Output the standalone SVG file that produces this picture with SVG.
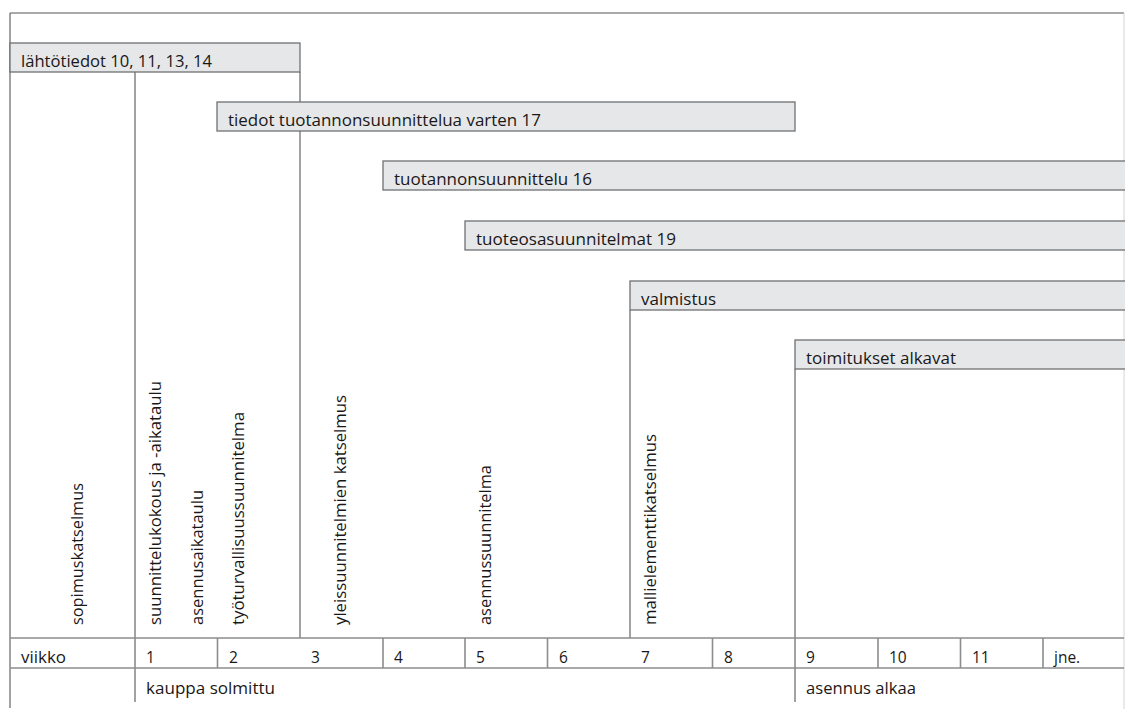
<svg xmlns="http://www.w3.org/2000/svg" width="1125" height="709" viewBox="0 0 1125 709">
<style>
  .bar { fill: #e6e7e8; stroke: #6f7072; stroke-width: 1.3; }
  .ln { stroke: #6f7072; stroke-width: 1.3; fill: none; }
  .tl { stroke: #8c8d8f; stroke-width: 1.6; fill: none; }
  .edge { stroke: #d4d4d4; stroke-width: 1; fill: none; }
  text { font-family: "Open Sans", "Noto Sans", "Liberation Sans", sans-serif; font-size: 15.5px; fill: #1a1718; }
</style>
<rect x="0" y="0" width="1125" height="709" fill="#ffffff"/>

<g id="frame">
  <path class="tl" d="M10,13 H1124"/>
  <path class="edge" d="M1124,13 V709"/>
  <path class="ln" d="M10,13 V708"/>
</g>

<g id="connectors">
  <path class="ln" d="M135,72 V702"/>
  <path class="ln" d="M300,72 V638"/>
  <path class="ln" d="M630,310 V638"/>
  <path class="ln" d="M795,369 V702"/>
</g>

<g id="lahtotiedot">
  <rect class="bar" x="10" y="43" width="290" height="29"/>
  <text x="21" y="67" textLength="191" lengthAdjust="spacingAndGlyphs">lähtötiedot 10, 11, 13, 14</text>
</g>
<g id="tiedot">
  <rect class="bar" x="217" y="102" width="578" height="29"/>
  <text x="228" y="126" textLength="313" lengthAdjust="spacingAndGlyphs">tiedot tuotannonsuunnittelua varten 17</text>
</g>
<g id="tuotannonsuunnittelu">
  <rect class="bar" x="383" y="161" width="745" height="29"/>
  <text x="394" y="185" textLength="198" lengthAdjust="spacingAndGlyphs">tuotannonsuunnittelu 16</text>
</g>
<g id="tuoteosasuunnitelmat">
  <rect class="bar" x="465" y="221" width="663" height="29"/>
  <text x="476" y="245" textLength="200" lengthAdjust="spacingAndGlyphs">tuoteosasuunnitelmat 19</text>
</g>
<g id="valmistus">
  <rect class="bar" x="630" y="281" width="498" height="29"/>
  <text x="641" y="305" textLength="75" lengthAdjust="spacingAndGlyphs">valmistus</text>
</g>
<g id="toimitukset">
  <rect class="bar" x="795" y="340" width="333" height="29"/>
  <text x="806" y="364" textLength="150" lengthAdjust="spacingAndGlyphs">toimitukset alkavat</text>
</g>

<g id="milestones">
  <text transform="translate(83,625) rotate(-90)" textLength="142" lengthAdjust="spacingAndGlyphs">sopimuskatselmus</text>
  <text transform="translate(161,625) rotate(-90)" textLength="244" lengthAdjust="spacingAndGlyphs">suunnittelukokous ja -aikataulu</text>
  <text transform="translate(203,625) rotate(-90)" textLength="135" lengthAdjust="spacingAndGlyphs">asennusaikataulu</text>
  <text transform="translate(244,625) rotate(-90)" textLength="213" lengthAdjust="spacingAndGlyphs">työturvallisuussuunnitelma</text>
  <text transform="translate(346,625) rotate(-90)" textLength="230" lengthAdjust="spacingAndGlyphs">yleissuunnitelmien katselmus</text>
  <text transform="translate(491,625) rotate(-90)" textLength="160" lengthAdjust="spacingAndGlyphs">asennussuunnitelma</text>
  <text transform="translate(656,625) rotate(-90)" textLength="191" lengthAdjust="spacingAndGlyphs">mallielementtikatselmus</text>
</g>

<g id="timeline">
  <path class="tl" d="M10,638 H1124 M10,668 H1124"/>
  <path class="tl" d="M217.5,638 V668 M383,638 V668 M465,638 V668 M547.5,638 V668 M712.5,638 V668 M878,638 V668 M960.5,638 V668 M1043,638 V668"/>
  <text x="21" y="663" textLength="45" lengthAdjust="spacingAndGlyphs">viikko</text>
  <text x="146" y="663">1</text>
  <text x="229" y="663">2</text>
  <text x="311" y="663">3</text>
  <text x="394" y="663">4</text>
  <text x="476" y="663">5</text>
  <text x="559" y="663">6</text>
  <text x="641" y="663">7</text>
  <text x="724" y="663">8</text>
  <text x="806" y="663">9</text>
  <text x="889" y="663">10</text>
  <text x="972" y="663">11</text>
  <text x="1054" y="663">jne.</text>
  <text x="146" y="694" textLength="129" lengthAdjust="spacingAndGlyphs">kauppa solmittu</text>
  <text x="806" y="694" textLength="110" lengthAdjust="spacingAndGlyphs">asennus alkaa</text>
</g>
</svg>
